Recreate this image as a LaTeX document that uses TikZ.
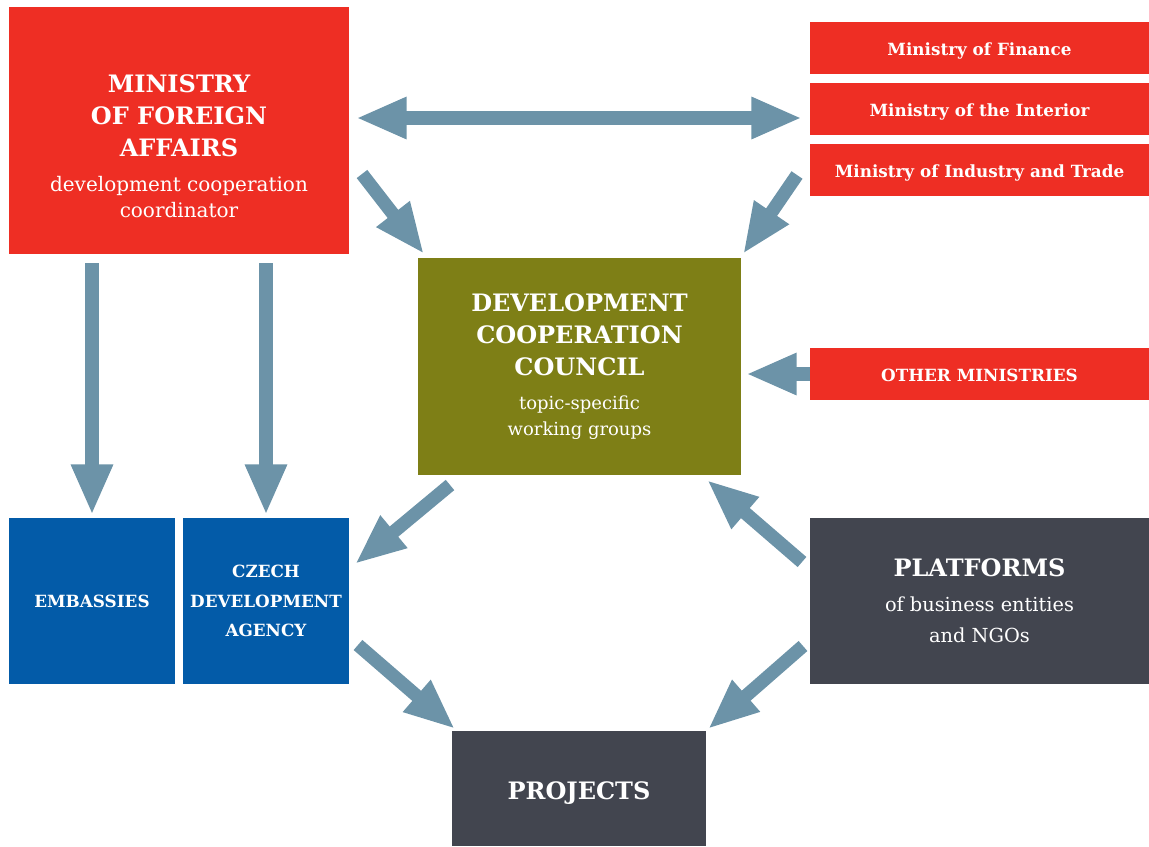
\documentclass[tikz,border=0pt]{standalone}
\usepackage{fontspec}
\setmainfont{DejaVu Serif}
\usetikzlibrary{arrows.meta}
\definecolor{mred}{HTML}{EE2E24}
\definecolor{mblue}{HTML}{035BA8}
\definecolor{molive}{HTML}{7E7F16}
\definecolor{mdark}{HTML}{42454F}
\definecolor{marrow}{HTML}{6C93A8}
\newcommand\ttl{\bfseries\fontsize{18}{24}\selectfont}
\newcommand\subA{\mdseries\fontsize{15}{19.5}\selectfont}
\newcommand\subB{\mdseries\fontsize{13.5}{19.5}\selectfont}
\newcommand\subC{\mdseries\fontsize{14.5}{19.5}\selectfont}
\newcommand\lowered[2]{\raisebox{-#1}[0pt][0pt]{#2}}
\begin{document}
\begin{tikzpicture}[x=0.75pt,y=-0.75pt,
  box/.style={inner sep=0pt, outer sep=0pt, text=white, align=center},
  wh/.style 2 args={minimum width={#1*0.75pt}, minimum height={#2*0.75pt}},
  big/.style={font=\bfseries\fontsize{18}{24}\selectfont},
  minb/.style={font=\bfseries\fontsize{12.6}{15}\selectfont},
  arr/.style={draw=marrow, line width=10pt, -{Triangle[width=29pt,length=38pt]}},
  darr/.style={draw=marrow, line width=10pt, {Triangle[width=29pt,length=38pt]}-{Triangle[width=29pt,length=38pt]}}
]
\useasboundingbox (0,0) rectangle (1149,846);

% boxes
\node[box, fill=mred, wh={340}{247}] (mfa) at (179,130.5) {};
\node[box, text=white, font=\fontsize{18}{24}\selectfont] (mfatext) at (179,146) {\ttl MINISTRY\\\ttl OF FOREIGN\\\ttl AFFAIRS\\[2.25pt]\subA development cooperation\\[-4.5pt]\subA coordinator};

\node[box, fill=mred, wh={339}{52}, minb] (fin) at (979.5,48) {\lowered{5.25pt}{Ministry of Finance}};
\node[box, fill=mred, wh={339}{52}, minb] (int) at (979.5,109) {\lowered{5.25pt}{Ministry of the Interior}};
\node[box, fill=mred, wh={339}{52}, minb] (ind) at (979.5,170) {\lowered{5.25pt}{Ministry of Industry and Trade}};

\node[box, fill=molive, wh={323}{217}, font=\fontsize{18}{24}\selectfont] (dcc) at (579.5,366.5) {\ttl DEVELOPMENT\\\ttl COOPERATION\\\ttl COUNCIL\\[1.5pt]\subB topic-specific\\[-4.5pt]\subB working groups};

\node[box, fill=mred, wh={339}{52}, minb] (other) at (979.5,374) {\lowered{5.25pt}{OTHER MINISTRIES}};

\node[box, fill=mblue, wh={166}{166}, font=\bfseries\fontsize{12.6}{22}\selectfont] (emb) at (92,601) {EMBASSIES};
\node[box, fill=mblue, wh={166}{166}, font=\bfseries\fontsize{12.6}{22}\selectfont] (cda) at (266,601) {CZECH\\DEVELOPMENT\\AGENCY};

\node[box, fill=mdark, wh={339}{166}, font=\fontsize{18}{24}\selectfont] (plat) at (979.5,601) {\ttl PLATFORMS\\[2pt]\subC of business entities\\[-0.75pt]\subC and NGOs};

\node[box, fill=mdark, wh={254}{115}, big] (proj) at (579,788.5) {\lowered{8.6pt}{PROJECTS}};

% connectors
\draw[darr] ([shift={(7,-12.5)}]mfa.east) -- ([shift={(-8,9)}]int.west);
\draw[arr] ([shift={(13,167)}]mfa.north east) -- ([shift={(6,-4)}]dcc.north west);
\draw[arr] ([shift={(-13,-21)}]ind.south west) -- ([shift={(2,-4)}]dcc.north east);
\draw[arr] (other.west) -- ([shift={(5,7.5)}]dcc.east);
\draw[arr] ([shift={(32,10)}]dcc.south west) -- ([shift={(6,46)}]cda.north east);
\draw[arr] ([shift={(-8,-39)}]plat.west) -- ([shift={(-34,5)}]dcc.south east);
\draw[arr] ([shift={(9,44)}]cda.east) -- ([shift={(3,-2)}]proj.north west);
\draw[arr] ([shift={(-7,45)}]plat.west) -- ([shift={(2,-2)}]proj.north east);
\draw[arr] ([shift={(83,9)}]mfa.south west) -- ([shift={(0,-3)}]emb.north);
\draw[arr] ([shift={(-83,9)}]mfa.south east) -- ([shift={(0,-3)}]cda.north);
\end{tikzpicture}
\end{document}
